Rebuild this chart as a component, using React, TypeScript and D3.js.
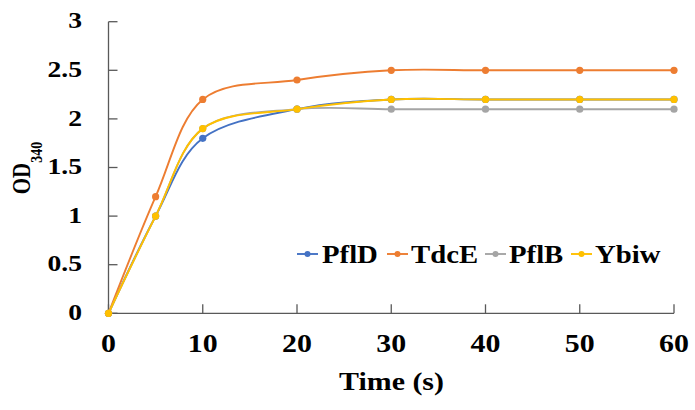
import React from "react";
import * as d3 from "d3";

const times = [0, 5, 10, 20, 30, 40, 50, 60];
const seriesNames = ["PflD", "TdcE", "PflB", "Ybiw"];
const pflD = [0, 1.0, 1.8, 2.1, 2.2, 2.2, 2.2, 2.2];
const tdcE = [0, 1.2, 2.2, 2.4, 2.5, 2.5, 2.5, 2.5];
const pflB = [0, 1.0, 1.9, 2.1, 2.1, 2.1, 2.1, 2.1];
const ybiw = [0, 1.0, 1.9, 2.1, 2.2, 2.2, 2.2, 2.2];
const colors = ["#4472C4", "#ED7D31", "#A5A5A5", "#FFC000"];
const xTicks = [0, 10, 20, 30, 40, 50, 60];
const yTicks = [0, 0.5, 1, 1.5, 2, 2.5, 3];

const W = 695;
const H = 410;
const FONT = "Liberation Serif";
const SX = 1.15;

function T(props: {
  x: number;
  y: number;
  size: number;
  anchor?: string;
  children: React.ReactNode;
}) {
  return (
    <text
      transform={`translate(${props.x},${props.y}) scale(${SX},1)`}
      textAnchor={props.anchor || "start"}
      style={{ fontFamily: FONT, fontWeight: "bold", fontSize: props.size }}
      fill="#000"
    >
      {props.children}
    </text>
  );
}

export default function App() {
  const x = d3.scaleLinear().domain([0, 60]).range([108.5, 674]);
  const y = d3.scaleLinear().domain([0, 3]).range([313.3, 21.7]);
  const all = [pflD, tdcE, pflB, ybiw];
  const line = d3
    .line<number>()
    .x((_, i) => x(times[i]))
    .y((d) => y(d))
    .curve(d3.curveCardinal.tension(0));
  const legendX = [297, 387, 485, 571];
  const legendTextX = [322, 411, 509, 595];
  const axisColor = "#595959";
  return (
    <svg width={W} height={H} style={{ position: "absolute", left: 0, top: 0, background: "#fff" }}>
      <line x1={x(0)} x2={x(0)} y1={y(3)} y2={y(0)} stroke={axisColor} strokeWidth={1.3} />
      <line x1={x(0)} x2={x(60)} y1={y(0)} y2={y(0)} stroke={axisColor} strokeWidth={1.3} />
      {yTicks.map((t) => (
        <g key={"y" + t}>
          <line x1={x(0)} x2={x(0) + 9} y1={y(t)} y2={y(t)} stroke={axisColor} strokeWidth={1.3} />
          <T x={82} y={y(t) + 6.7} size={24} anchor="end">
            {t}
          </T>
        </g>
      ))}
      {xTicks.map((t) => (
        <g key={"x" + t}>
          <line x1={x(t)} x2={x(t)} y1={y(0)} y2={y(0) - 9} stroke={axisColor} strokeWidth={1.3} />
          <T x={x(t)} y={351.7} size={26} anchor="middle">
            {t}
          </T>
        </g>
      ))}
      <T x={391.5} y={390} size={26} anchor="middle">
        Time (s)
      </T>
      <text
        transform={`translate(30, 168) scale(${SX},1) rotate(-90)`}
        textAnchor="middle"
        style={{ fontFamily: FONT, fontWeight: "bold", fontSize: 21 }}
      >
        OD
        <tspan style={{ fontSize: 14 }} dy={10}>
          340
        </tspan>
      </text>
      {all.map((vals, si) => (
        <g key={seriesNames[si]}>
          <path d={line(vals) || ""} fill="none" stroke={colors[si]} strokeWidth={1.9} />
          {vals.map((v, i) => (
            <circle key={i} cx={x(times[i])} cy={y(v)} r={3.6} fill={colors[si]} />
          ))}
        </g>
      ))}
      {seriesNames.map((n, i) => (
        <g key={"lg" + n}>
          <line x1={legendX[i]} x2={legendX[i] + 21} y1={254} y2={254} stroke={colors[i]} strokeWidth={1.9} />
          <circle cx={legendX[i] + 10.5} cy={254} r={3} fill={colors[i]} />
          <T x={legendTextX[i]} y={263} size={25}>
            {n}
          </T>
        </g>
      ))}
    </svg>
  );
}
